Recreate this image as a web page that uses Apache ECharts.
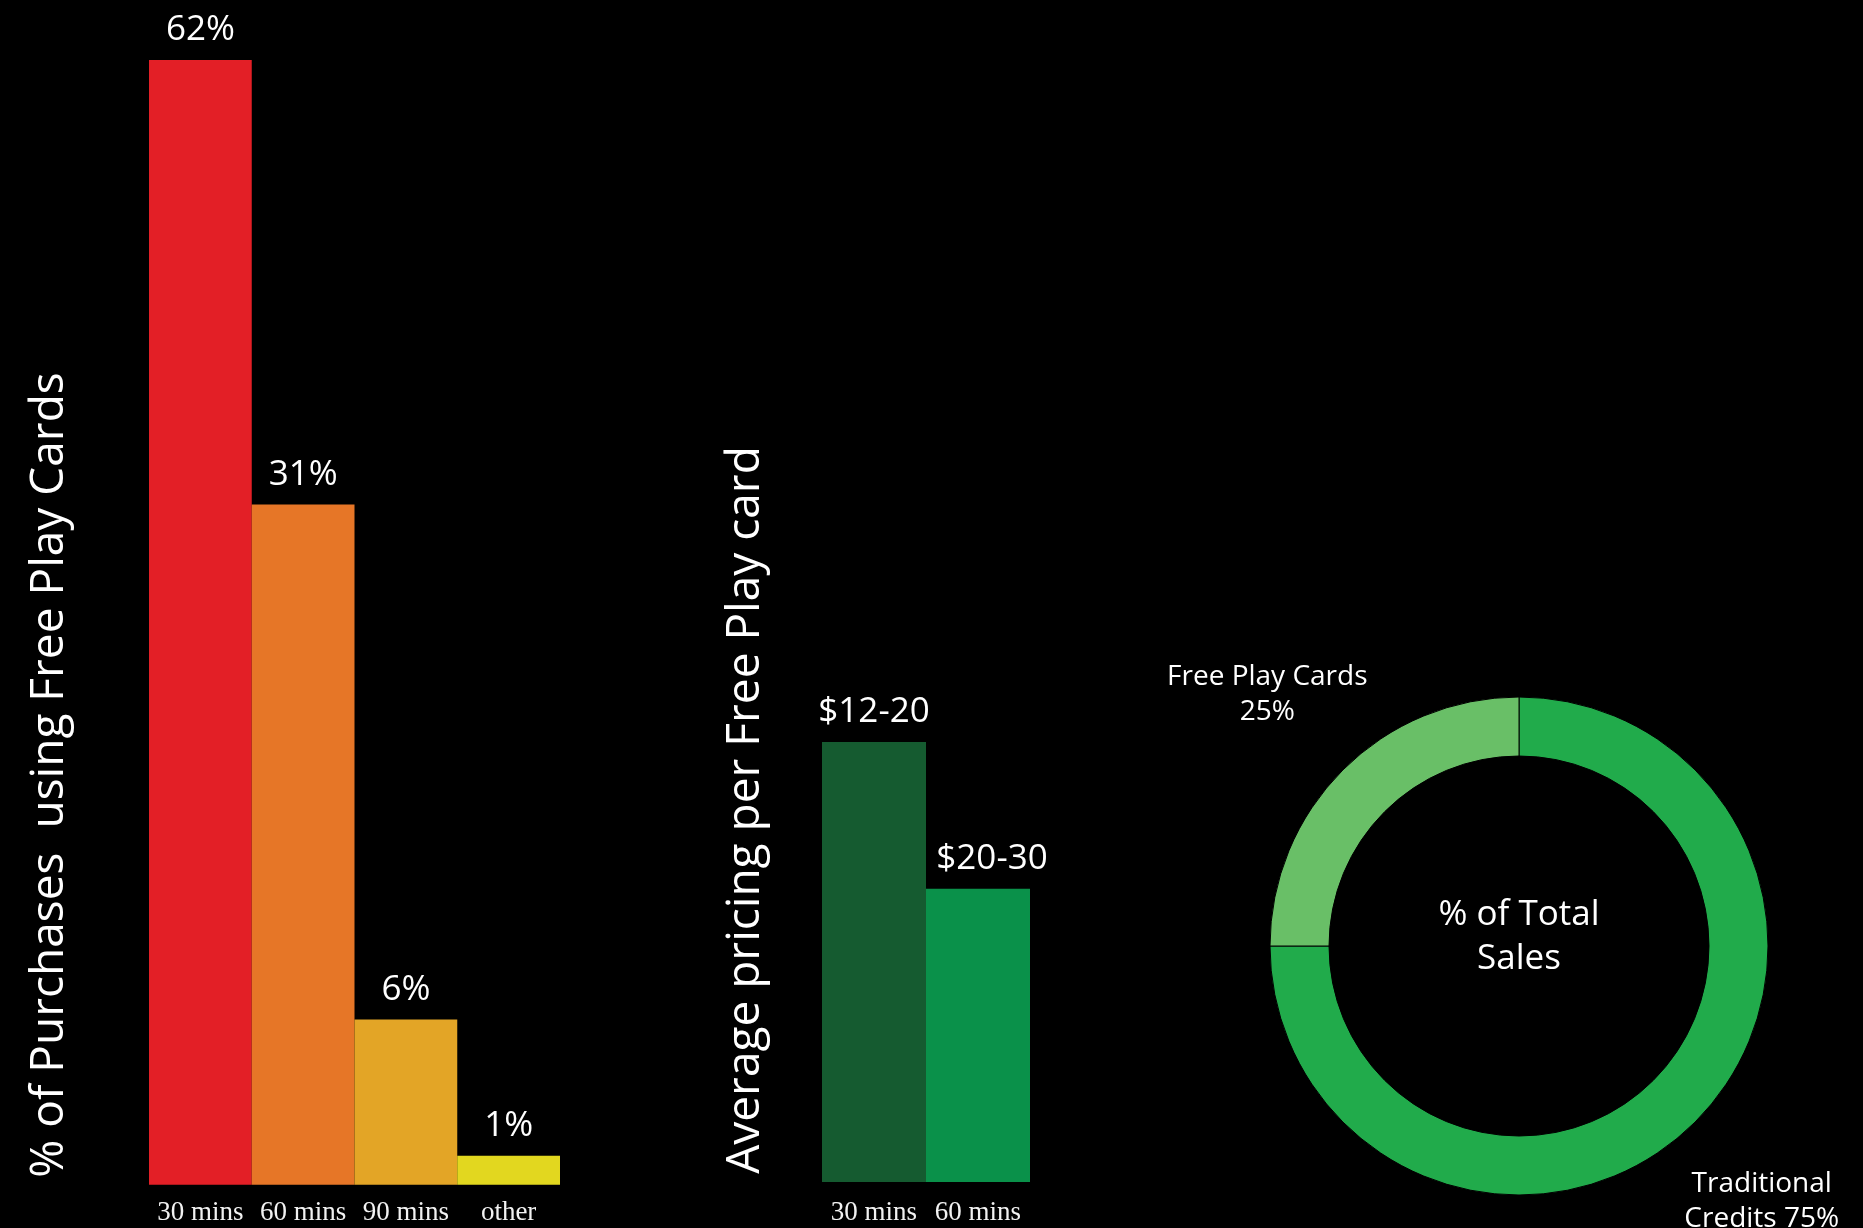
<!DOCTYPE html>
<html>
<head>
<meta charset="utf-8">
<script src="https://cdn.jsdelivr.net/npm/echarts@6/dist/echarts.min.js"></script>
<style>html,body{margin:0;padding:0;background:#000;}#c{width:1863px;height:1228px;}</style>
</head>
<body>
<div id="c"></div>
<script>
// Chart 1: purchases by card duration
const durationCats = ['30 mins', '60 mins', '90 mins', 'other'];
const purchaseShareLabels = [62, 31, 6, 1];          // printed values (%)
const purchaseBarHeights = [62, 37.5, 9.1, 1.6];     // bar heights as drawn
const purchaseColors = ['#E31F26', '#E67627', '#E3A526', '#E2D71F'];

// Chart 2: pricing per card
const pricingCats = ['30 mins', '60 mins'];
const pricingLabels = ['$12-20', '$20-30'];
const pricingBarHeights = [30, 20];                  // bar heights as drawn
const pricingColors = ['#155B30', '#0A914A'];

// Chart 3: share of total sales
const salesNames = ['Traditional Credits', 'Free Play Cards'];
const salesValues = [75, 25];
const salesColors = ['#21AB4B', '#69BF67'];

const SANS = '"Open Sans", "Noto Sans", sans-serif';
const SERIF = '"Liberation Serif", "DejaVu Serif", serif';

const chart = echarts.init(document.getElementById('c'));
chart.setOption({
  backgroundColor: '#000',
  animation: false,
  grid: [
    { left: 149, width: 411, top: 60, bottom: 43.3 },
    { left: 822, width: 208, top: 742, bottom: 46 }
  ],
  xAxis: [
    { gridIndex: 0, type: 'category', data: durationCats,
      axisLine: { show: false }, axisTick: { show: false },
      axisLabel: { interval: 0, color: '#f2f2f2', fontFamily: SERIF, fontSize: 27, margin: 15 } },
    { gridIndex: 1, type: 'category', data: pricingCats,
      axisLine: { show: false }, axisTick: { show: false },
      axisLabel: { interval: 0, color: '#f2f2f2', fontFamily: SERIF, fontSize: 27, margin: 17 } }
  ],
  yAxis: [
    { gridIndex: 0, type: 'value', min: 0, max: 62, show: false },
    { gridIndex: 1, type: 'value', min: 0, max: 30, show: false }
  ],
  series: [
    { type: 'bar', xAxisIndex: 0, yAxisIndex: 0, barWidth: '100%',
      data: purchaseBarHeights.map((v, i) => ({ value: v, itemStyle: { color: purchaseColors[i] } })),
      label: { show: true, position: 'top', distance: 12, color: '#fff', fontFamily: SANS, fontSize: 35,
        formatter: p => purchaseShareLabels[p.dataIndex] + '%' } },
    { type: 'bar', xAxisIndex: 1, yAxisIndex: 1, barWidth: '100%',
      data: pricingBarHeights.map((v, i) => ({ value: v, itemStyle: { color: pricingColors[i] },
        label: { offset: [i === 1 ? 14 : 0, 0] } })),
      label: { show: true, position: 'top', distance: 12, color: '#fff', fontFamily: SANS, fontSize: 35,
        formatter: p => pricingLabels[p.dataIndex] } },
    { type: 'pie', center: [1519, 946], radius: [190, 249], startAngle: 90, clockwise: true,
      itemStyle: { borderColor: '#000', borderWidth: 1 },
      data: salesValues.map((v, i) => ({ name: salesNames[i], value: v, itemStyle: { color: salesColors[i] } })),
      label: { show: true, position: 'outside', color: '#fff', fontFamily: SANS, fontSize: 28, lineHeight: 35,
        overflow: 'none', width: 400,
        formatter: p => p.dataIndex === 0 ? 'Traditional\nCredits ' + p.value + '%' : p.name + '\n' + p.value + '%' },
      labelLine: { show: false, length: 107, length2: 0 },
      labelLayout: p => {
        const pts = p.labelLinePoints;
        if (!pts) return {};
        const pt = pts[pts.length - 1];
        const dx = p.dataIndex === 0 ? -9 : 0;
        const dy = p.dataIndex === 0 ? 4 : 0;
        return { x: pt[0] + dx, y: pt[1] + dy, align: 'center', verticalAlign: 'middle' };
      },
      emphasis: { disabled: true }
    }
  ],
  graphic: [
    { type: 'text', x: 50, y: 775, rotation: Math.PI / 2,
      style: { text: '% of Purchases  using Free Play Cards', font: '46px ' + SANS, fill: '#fff',
        align: 'center', verticalAlign: 'middle', textAlign: 'center', textVerticalAlign: 'middle' } },
    { type: 'text', x: 746, y: 810, rotation: Math.PI / 2,
      style: { text: 'Average pricing per Free Play card', font: '46px ' + SANS, fill: '#fff',
        align: 'center', verticalAlign: 'middle', textAlign: 'center', textVerticalAlign: 'middle' } },
    { type: 'text', x: 1519, y: 937,
      style: { text: '% of Total\nSales', font: '35px ' + SANS, lineHeight: 44, fill: '#fff',
        align: 'center', verticalAlign: 'middle', textAlign: 'center', textVerticalAlign: 'middle' } }
  ]
});
</script>
</body>
</html>
